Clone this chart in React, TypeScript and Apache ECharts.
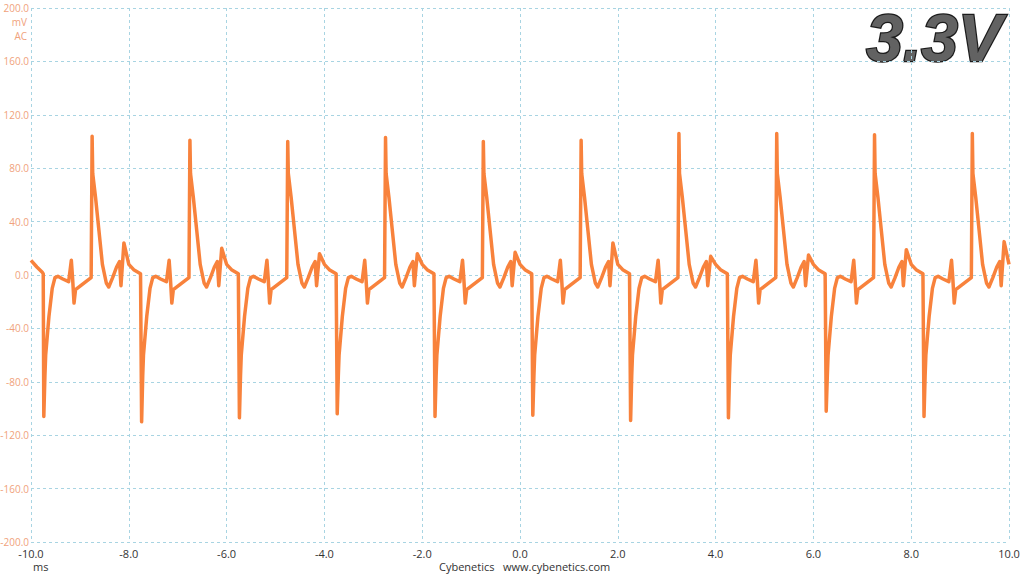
import React, { useEffect, useRef } from "react";
import * as echarts from "echarts";

// Axis ticks
const xTicks = { min: -10, max: 10, interval: 2 };
const yTicks = { min: -200, max: 200, interval: 40 };

// Times (ms) of the negative spikes, one per switching period
const negSpikeTimes = [-9.75, -7.75, -5.75, -3.75, -1.75, 0.25, 2.25, 4.25, 6.25, 8.25];
// Per-period extremes (mV)
const negPeaks = [-106, -110, -107, -104, -106, -105, -109, -107, -102, -106];
const posPeaks = [104, 101, 100, 103, 100, 101, 106, 106, 105, 106];
const bumpPeaks = [24, 20, 16, 16, 17, 24, 14, 15, 19, 25];

// Typical shape of one period, offsets (ms) after the negative spike, values (mV)
const shapeOffsets = [0.0, 0.012, 0.035, 0.05, 0.117, 0.184, 0.24, 0.3, 0.4, 0.52, 0.575, 0.6, 0.63, 0.66, 0.8, 0.98, 1.0, 1.012, 1.07, 1.14, 1.21, 1.29, 1.34, 1.42, 1.5, 1.56, 1.59, 1.65, 1.75, 1.85, 1.99];
const shapeValues: (number | string)[] = [1, "neg", -75, -60, -31, -10, -2, -1, -3, -5, 11, -2, -21, -11, -7, -2, "pos", 76, 58, 33, 8, -6, -9, -2, 6, 10, -8, "bump", 8, 4, 1];

// Trace before the first spike
const leadTimes = [-10, -9.88, -9.77];
const leadValues = [11, 6, 2];

function buildData(): [number, number][] {
  const out: [number, number][] = [];
  leadTimes.forEach((t, i) => out.push([t, leadValues[i]]));
  negSpikeTimes.forEach((t0, p) => {
    shapeOffsets.forEach((off, i) => {
      const t = +(t0 + off).toFixed(4);
      if (t > 10) return;
      const raw = shapeValues[i];
      const v = raw === "neg" ? negPeaks[p] : raw === "pos" ? posPeaks[p] : raw === "bump" ? bumpPeaks[p] : (raw as number);
      out.push([t, v]);
    });
  });
  return out;
}

const FONT = "'Open Sans', 'Noto Sans', sans-serif";
const GRID_COLOR = "#a8d4e2";
const Y_LABEL_COLOR = "#f0a27c";
const TRACE_COLOR = "#f8823c";

export default function App() {
  const ref = useRef<HTMLDivElement>(null);
  useEffect(() => {
    if (!ref.current) return;
    const chart = echarts.init(ref.current, undefined, { renderer: "svg" });
    chart.setOption({
      animation: false,
      backgroundColor: "#ffffff",
      grid: { left: 31, right: 15, top: 8, bottom: 34, containLabel: false, outerBoundsMode: "none" },
      xAxis: {
        type: "value",
        min: xTicks.min,
        max: xTicks.max,
        interval: xTicks.interval,
        axisLine: { show: false },
        axisTick: { show: false },
        axisLabel: {
          color: "#333333",
          fontFamily: FONT,
          fontSize: 11,
          margin: 6,
          formatter: (v: number) => v.toFixed(1),
        },
        splitLine: { show: true, lineStyle: { color: GRID_COLOR, type: [3, 3], width: 1 } },
      },
      yAxis: {
        type: "value",
        min: yTicks.min,
        max: yTicks.max,
        interval: yTicks.interval,
        axisLine: { show: false },
        axisTick: { show: false },
        axisLabel: {
          color: Y_LABEL_COLOR,
          fontFamily: FONT,
          fontSize: 10,
          margin: 2,
          formatter: (v: number) => v.toFixed(1),
        },
        splitLine: { show: true, lineStyle: { color: GRID_COLOR, type: [3, 3], width: 1 } },
      },
      series: [
        {
          type: "line",
          data: buildData(),
          showSymbol: false,
          symbol: "none",
          lineStyle: { color: TRACE_COLOR, width: 3.5, join: "round" },
          itemStyle: { color: TRACE_COLOR },
          clip: true,
        },
      ],
      graphic: [
        { type: "text", right: 997, top: 17, style: { text: "mV", fill: Y_LABEL_COLOR, font: `10px ${FONT}`, align: "right" } },
        { type: "text", right: 997, top: 31, style: { text: "AC", fill: Y_LABEL_COLOR, font: `10px ${FONT}`, align: "right" } },
        { type: "text", left: 33, top: 561, style: { text: "ms", fill: "#333333", font: `11px ${FONT}` } },
        { type: "text", left: 439, top: 561, style: { text: "Cybenetics   www.cybenetics.com", fill: "#333333", font: `11px ${FONT}` } },
        {
          type: "text",
          left: 865,
          top: 4,
          style: {
            text: "3.3V",
            font: "italic bold 66px 'Liberation Sans', Arial, sans-serif",
            fill: "#626262",
            stroke: "#1c1c1c",
            lineWidth: 2.5,
          },
        },
      ],
    });
    return () => chart.dispose();
  }, []);
  return <div ref={ref} style={{ position: "fixed", left: 0, top: 0, width: 1024, height: 576 }} />;
}
